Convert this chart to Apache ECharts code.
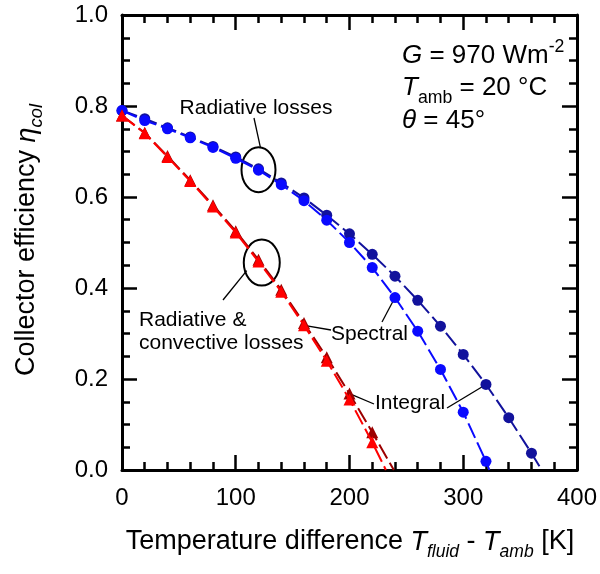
<!DOCTYPE html>
<html>
<head>
<meta charset="utf-8">
<script src="https://cdn.jsdelivr.net/npm/echarts@6/dist/echarts.min.js"></script>
<style>
  html, body { margin: 0; padding: 0; background: #fff; }
  #chart { width: 600px; height: 574px; }
</style>
</head>
<body>
<div id="chart"></div>
<script>
// Collector efficiency vs. temperature difference (G = 970 W/m2, Tamb = 20 C, theta = 45 deg)
const FONT = '"Liberation Sans", Arial, Helvetica, sans-serif';

// Temperature difference T_fluid - T_amb [K] at the computed points
const tempDiff = [0, 20, 40, 60, 80, 100, 120, 140, 160, 180, 200, 220, 240, 260, 280, 300, 320, 340, 360];

// Radiative losses only
const radSpectral = [0.790, 0.768, 0.750, 0.730, 0.709, 0.685, 0.659, 0.627, 0.592, 0.549, 0.500, 0.445, 0.379, 0.305, 0.221, 0.127, 0.019];
const radIntegral = [0.790, 0.772, 0.752, 0.732, 0.711, 0.688, 0.662, 0.631, 0.598, 0.560, 0.519, 0.474, 0.426, 0.373, 0.316, 0.254, 0.188, 0.115, 0.037];

// Radiative & convective losses
const convSpectral = [0.779, 0.740, 0.688, 0.635, 0.579, 0.522, 0.458, 0.392, 0.318, 0.240, 0.155, 0.061];
const convIntegral = [0.779, 0.741, 0.690, 0.637, 0.582, 0.525, 0.462, 0.396, 0.323, 0.248, 0.168, 0.083];

// Temperature difference where each curve reaches zero efficiency
const stagnation = { radSpectral: 323, radIntegral: 369, convSpectral: 232, convIntegral: 239 };

// Axis ticks
const xTicks = [0, 100, 200, 300, 400];
const yTicks = [0.0, 0.2, 0.4, 0.6, 0.8, 1.0];

const COL = {
  blue: '#0a0aff',
  navy: '#12129c',
  red: '#ff0000',
  wine: '#9c0000'
};

function curve(values, endX) {
  const d = values.map((v, i) => [tempDiff[i], v]);
  d.push({ value: [endX, 0], symbol: 'none' });
  return d;
}

function lineSeries(name, values, endX, color, symbol, size, z) {
  return {
    name, type: 'line', data: curve(values, endX),
    symbol, symbolSize: size, showAllSymbol: true,
    itemStyle: { color },
    lineStyle: { color, width: 2, type: [16, 5] },
    z, silent: true, animation: false
  };
}

const axisBase = {
  type: 'value',
  axisLine: { show: true, onZero: false, lineStyle: { color: '#000', width: 3 } },
  axisTick: { show: true, inside: true, length: 15, lineStyle: { color: '#000', width: 2.5 } },
  minorTick: { show: true, length: 8, lineStyle: { color: '#000', width: 2.5 } },
  splitLine: { show: false },
  minorSplitLine: { show: false }
};

const chart = echarts.init(document.getElementById('chart'), null, { renderer: 'canvas' });

chart.setOption({
  backgroundColor: '#fff',
  animation: false,
  grid: { left: 122, right: 22, top: 15, bottom: 104, containLabel: false },
  xAxis: [
    Object.assign({}, axisBase, {
      min: xTicks[0], max: xTicks[xTicks.length - 1], interval: xTicks[1] - xTicks[0],
      position: 'bottom',
      minorTick: Object.assign({}, axisBase.minorTick, { splitNumber: 5 }),
      axisLabel: { color: '#000', fontSize: 24, fontFamily: FONT, margin: 16 }
    }),
    Object.assign({}, axisBase, {
      min: xTicks[0], max: xTicks[xTicks.length - 1], interval: xTicks[1] - xTicks[0],
      position: 'top',
      minorTick: Object.assign({}, axisBase.minorTick, { splitNumber: 5 }),
      axisLabel: { show: false }
    })
  ],
  yAxis: [
    Object.assign({}, axisBase, {
      min: yTicks[0], max: yTicks[yTicks.length - 1], interval: yTicks[1] - yTicks[0],
      position: 'left',
      minorTick: Object.assign({}, axisBase.minorTick, { splitNumber: 4 }),
      axisLabel: { color: '#000', fontSize: 24, fontFamily: FONT, margin: 14, formatter: v => v.toFixed(1) }
    }),
    Object.assign({}, axisBase, {
      min: yTicks[0], max: yTicks[yTicks.length - 1], interval: yTicks[1] - yTicks[0],
      position: 'right',
      minorTick: Object.assign({}, axisBase.minorTick, { splitNumber: 4 }),
      axisLabel: { show: false }
    })
  ],
  series: [
    lineSeries('Radiative, integral', radIntegral, stagnation.radIntegral, COL.navy, 'circle', 11, 2),
    lineSeries('Radiative, spectral', radSpectral, stagnation.radSpectral, COL.blue, 'circle', 11, 3),
    lineSeries('Rad. & conv., integral', convIntegral, stagnation.convIntegral, COL.wine, 'triangle', 12, 4),
    lineSeries('Rad. & conv., spectral', convSpectral, stagnation.convSpectral, COL.red, 'triangle', 12, 5)
  ]
});

// ---- annotations -------------------------------------------------------
const ctx = document.createElement('canvas').getContext('2d');
function fontStr(size, italic) { return (italic ? 'italic ' : '') + size + 'px ' + FONT; }
function textWidth(t, size, italic) { ctx.font = fontStr(size, italic); return ctx.measureText(t).width; }

// Lay out a run of text pieces (with sub/superscripts) along a common centre line
function runWidth(pieces, base) {
  return pieces.reduce((w, p) => w + textWidth(p.t, base * (p.scale || 1), p.italic), 0);
}
function textRun(pieces, base, x0, yMid) {
  let x = x0;
  const out = [];
  pieces.forEach(p => {
    const s = base * (p.scale || 1);
    out.push({
      type: 'text', x, y: yMid + (p.dy || 0) * base, silent: true,
      style: { text: p.t, font: fontStr(s, p.italic), fill: '#000', textAlign: 'left', textVerticalAlign: 'middle' }
    });
    x += textWidth(p.t, s, p.italic);
  });
  return out;
}

const px = (x, y) => chart.convertToPixel({ gridIndex: 0 }, [x, y]);
const seg = (a, b) => ({ type: 'line', silent: true, shape: { x1: a[0], y1: a[1], x2: b[0], y2: b[1] }, style: { stroke: '#000', lineWidth: 1.3 } });
const ring = (c, rx, ry) => ({ type: 'ellipse', silent: true, shape: { cx: c[0], cy: c[1], rx, ry }, style: { fill: 'none', stroke: '#000', lineWidth: 2 } });

const LABEL = 21;
const elements = [];

// Ellipses marking the two groups of curves
const ringRad = px(120, radIntegral[6]);
const ringConv = px(122, convSpectral[6]);
elements.push(ring([ringRad[0], ringRad[1] + 1], 17, 22.5));
elements.push(ring([ringConv[0] + 1, ringConv[1] + 1], 18, 23));

// "Radiative losses"
elements.push(...textRun([{ t: 'Radiative losses' }], LABEL, 256 - textWidth('Radiative losses', LABEL) / 2, 108));
elements.push(seg([254, 118], [ringRad[0] + 2, ringRad[1] - 21]));

// "Radiative & convective losses"
elements.push(...textRun([{ t: 'Radiative &' }], LABEL, 139, 320));
elements.push(...textRun([{ t: 'convective losses' }], LABEL, 139, 343));
elements.push(seg([223, 300], [ringConv[0] - 14, ringConv[1] + 9]));

// "Spectral" leaders
elements.push(...textRun([{ t: 'Spectral' }], LABEL, 331, 334));
elements.push(seg(px(160, convSpectral[8]), [331, 330]));
elements.push(seg([382, 322], px(240, radSpectral[12])));

// "Integral" leaders
elements.push(...textRun([{ t: 'Integral' }], LABEL, 375, 403));
elements.push(seg(px(200, convIntegral[10]), [374, 404]));
elements.push(seg([447, 408], px(320, radIntegral[16])));

// Operating conditions
const COND = 26;
elements.push(...textRun([{ t: 'G', italic: true }, { t: ' = 970 Wm' }, { t: '-2', scale: 0.68, dy: -0.36 }], COND, 402, 56));
elements.push(...textRun([{ t: 'T', italic: true }, { t: 'amb', scale: 0.68, dy: 0.38 }, { t: ' = 20 °C' }], COND, 402, 88));
elements.push(...textRun([{ t: 'θ', italic: true }, { t: ' = 45°' }], COND, 402, 121));

// Axis titles
const TITLE = 27;
const xTitle = [
  { t: 'Temperature difference ' }, { t: 'T', italic: true }, { t: 'fluid', italic: true, scale: 0.65, dy: 0.38 },
  { t: ' - ' }, { t: 'T', italic: true }, { t: 'amb', italic: true, scale: 0.65, dy: 0.38 }, { t: ' [K]' }
];
elements.push(...textRun(xTitle, TITLE, 350 - runWidth(xTitle, TITLE) / 2, 542));

const yTitle = [{ t: 'Collector efficiency ' }, { t: 'η', italic: true }, { t: 'col', italic: true, scale: 0.68, dy: 0.38 }];
const yW = runWidth(yTitle, TITLE);
elements.push({
  type: 'group', x: 27, y: 240, rotation: Math.PI / 2, silent: true,
  children: textRun(yTitle, TITLE, -yW / 2, 0)
});

chart.setOption({ graphic: { elements } });
</script>
</body>
</html>
